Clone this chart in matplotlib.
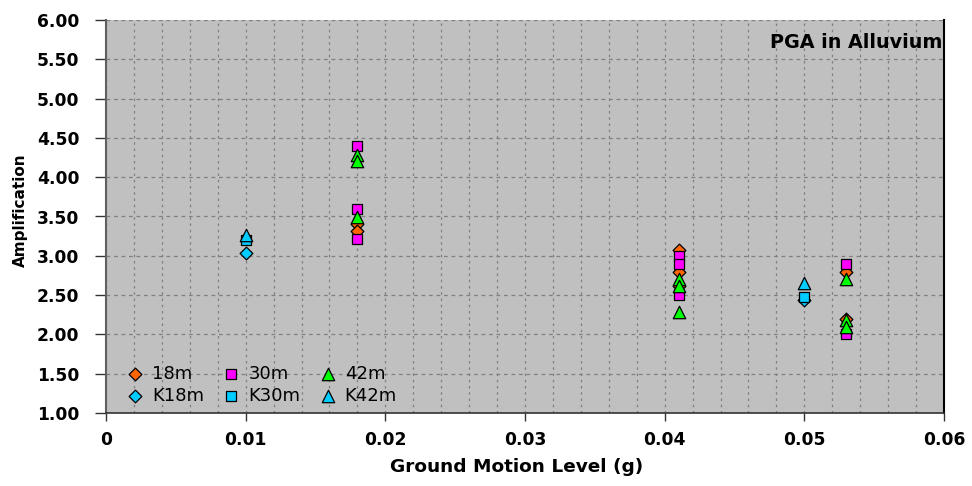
import matplotlib
matplotlib.use("Agg")
import matplotlib.pyplot as plt
from matplotlib.ticker import MultipleLocator, FuncFormatter

plt.rcParams['font.family'] = ['DejaVu Sans']

# Amplification of PGA per embedment depth
x_18m = [0.018, 0.018, 0.041, 0.041, 0.041, 0.053, 0.053]
y_18m = [3.40, 3.31, 3.08, 2.80, 2.62, 2.80, 2.20]

x_30m = [0.018, 0.018, 0.018, 0.041, 0.041, 0.041, 0.053, 0.053]
y_30m = [4.40, 3.60, 3.21, 3.00, 2.90, 2.50, 2.90, 2.00]

x_42m = [0.018, 0.018, 0.018, 0.041, 0.041, 0.041, 0.053, 0.053, 0.053]
y_42m = [4.28, 4.20, 3.49, 2.70, 2.62, 2.29, 2.70, 2.18, 2.10]

x_k18m = [0.010, 0.050]
y_k18m = [3.04, 2.44]

x_k30m = [0.010, 0.050]
y_k30m = [3.20, 2.48]

x_k42m = [0.010, 0.050]
y_k42m = [3.26, 2.65]

series = [
    ("18m", x_18m, y_18m, "D", "#FF6600", 42),
    ("30m", x_30m, y_30m, "s", "#FF00FF", 62),
    ("42m", x_42m, y_42m, "^", "#00FF00", 80),
    ("K18m", x_k18m, y_k18m, "D", "#00CCFF", 42),
    ("K30m", x_k30m, y_k30m, "s", "#00CCFF", 62),
    ("K42m", x_k42m, y_k42m, "^", "#00CCFF", 80),
]

fig = plt.figure(figsize=(9.72, 4.86), dpi=100)
ax = fig.add_axes([106 / 972, 73 / 486, 838 / 972, 393 / 486])
ax.set_facecolor("#C0C0C0")

handles = {}
for label, xs, ys, mk, col, s in series:
    handles[label] = ax.scatter(xs, ys, marker=mk, s=s, facecolor=col, edgecolor="black",
                                linewidth=0.9, label=label, zorder=3)

ax.set_xlim(0, 0.06)
ax.set_ylim(1.0, 6.0)
ax.xaxis.set_major_locator(MultipleLocator(0.01))
ax.xaxis.set_minor_locator(MultipleLocator(0.002))
ax.yaxis.set_major_locator(MultipleLocator(0.5))
ax.xaxis.set_major_formatter(FuncFormatter(lambda v, p: "0" if abs(v) < 1e-12 else f"{v:g}"))
ax.yaxis.set_major_formatter(FuncFormatter(lambda v, p: f"{v:.2f}"))

ax.grid(True, which="both", axis="x", linestyle=(0, (2, 3)), color="#808080", linewidth=0.9)
ax.grid(True, which="major", axis="y", linestyle=(0, (3, 3)), color="#808080", linewidth=0.9)
ax.set_axisbelow(True)

ax.tick_params(axis="x", which="major", direction="out", length=6, width=1,
               color="#333333", labelsize=12.3, pad=7)
ax.tick_params(axis="y", which="major", direction="out", length=8, width=1,
               color="#333333", labelsize=12.3, pad=11)
ax.tick_params(axis="x", which="minor", length=0)
for lbl in ax.get_xticklabels() + ax.get_yticklabels():
    lbl.set_fontweight("bold")

ax.spines["top"].set_visible(False)
ax.spines["left"].set_color("#606060")
ax.spines["left"].set_linewidth(1.5)
ax.spines["bottom"].set_color("#333333")
ax.spines["bottom"].set_linewidth(1.2)
ax.spines["right"].set_color("black")
ax.spines["right"].set_linewidth(1.5)

ax.set_xlabel("Ground Motion Level (g)", fontsize=13.3, fontweight="bold")
ax.xaxis.set_label_coords(0.49, -0.115)
ax.set_ylabel("Amplification", fontsize=11, fontweight="bold")
ax.yaxis.set_label_coords(-0.093, 0.515)

ax.text(0.998, 0.944, "PGA in Alluvium", transform=ax.transAxes, ha="right", va="center",
        fontsize=13.8, fontweight="bold")

order = ["18m", "30m", "42m", "K18m", "K30m", "K42m"]
col_major = [order[i] for i in (0, 3, 1, 4, 2, 5)]
ax.legend([handles[k] for k in col_major], col_major,
          loc="lower left", ncol=3, frameon=False, fontsize=13,
          handlelength=1.0, handletextpad=0.45, columnspacing=1.0, labelspacing=0.22,
          borderaxespad=0.0, borderpad=0.0, bbox_to_anchor=(20 / 838, 8 / 393))

fig.savefig("out.png", dpi=100)
